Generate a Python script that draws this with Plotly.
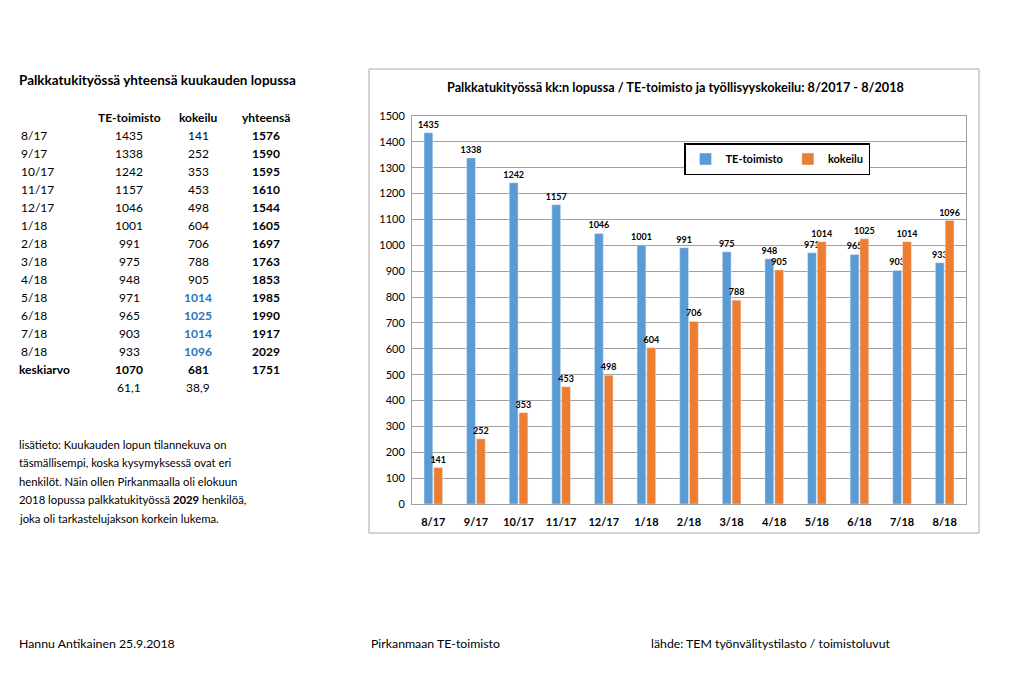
import plotly.graph_objects as go

# ---- data ----
months = ["8/17", "9/17", "10/17", "11/17", "12/17", "1/18", "2/18", "3/18", "4/18", "5/18", "6/18", "7/18", "8/18"]
te_toimisto = [1435, 1338, 1242, 1157, 1046, 1001, 991, 975, 948, 971, 965, 903, 933]
kokeilu = [141, 252, 353, 453, 498, 604, 706, 788, 905, 1014, 1025, 1014, 1096]
yhteensa = [1576, 1590, 1595, 1610, 1544, 1605, 1697, 1763, 1853, 1985, 1990, 1917, 2029]
keskiarvo = [1070, 681, 1751]
osuus = ["61,1", "38,9"]
y_ticks = list(range(0, 1501, 100))

FONT = "Lato"
BLUE = "#5b9bd5"
ORANGE = "#ed7d31"

# plot-area geometry in pixels
W, H = 1024, 676
PL, PR, PT, PB = 412, 966, 116, 504


def px(x):
    return (x - PL) / (PR - PL)


def py(y):
    return (PB - y) / (PB - PT)


fig = go.Figure()
fig.add_trace(go.Bar(
    x=months, y=te_toimisto, name="<b>TE-toimisto</b>", marker_color=BLUE,
    texttemplate="<b>%{y}</b>", textposition="outside",
    textfont=dict(family=FONT, size=9, color="#000"), cliponaxis=False,
    constraintext="none",
))
fig.add_trace(go.Bar(
    x=months, y=kokeilu, name="<b>kokeilu</b>", marker_color=ORANGE,
    texttemplate="<b>%{y}</b>", textposition="outside",
    textfont=dict(family=FONT, size=9, color="#000"), cliponaxis=False,
    constraintext="none",
))

ann = []
shapes = []

# chart box
shapes.append(dict(type="rect", xref="paper", yref="paper",
                   x0=px(369), x1=px(979), y0=py(533), y1=py(69),
                   line=dict(color="#a6a6a6", width=1), layer="below"))

# chart title
ann.append(dict(text="<b>Palkkatukityössä kk:n lopussa / TE-toimisto ja työllisyyskokeilu: 8/2017 - 8/2018</b>",
                x=px(675), y=py(87), xref="paper", yref="paper", showarrow=False,
                xanchor="center", yanchor="middle", font=dict(family=FONT, size=12.7, color="#000")))

# left table
ann.append(dict(text="<b>Palkkatukityössä yhteensä kuukauden lopussa</b>",
                x=px(17), y=py(80), xref="paper", yref="paper", showarrow=False,
                xanchor="left", yanchor="middle", font=dict(family=FONT, size=13.5, color="#000")))

col_x = [129, 198, 266]
headers = ["TE-toimisto", "kokeilu", "yhteensä"]
for cx, h in zip(col_x, headers):
    ann.append(dict(text="<b>" + h + "</b>", x=px(cx), y=py(117), xref="paper", yref="paper",
                    showarrow=False, xanchor="center", yanchor="middle",
                    font=dict(family=FONT, size=12, color="#000")))

row0, step = 135, 18.05
for i, m in enumerate(months):
    yy = row0 + i * step
    ann.append(dict(text=m, x=px(19), y=py(yy), xref="paper", yref="paper", showarrow=False,
                    xanchor="left", yanchor="middle", font=dict(family=FONT, size=12, color="#000")))
    ann.append(dict(text=str(te_toimisto[i]), x=px(col_x[0]), y=py(yy), xref="paper", yref="paper",
                    showarrow=False, xanchor="center", yanchor="middle",
                    font=dict(family=FONT, size=12, color="#000")))
    hi = kokeilu[i] > te_toimisto[i]
    ann.append(dict(text=("<b>%d</b>" % kokeilu[i]) if hi else str(kokeilu[i]),
                    x=px(col_x[1]), y=py(yy), xref="paper", yref="paper",
                    showarrow=False, xanchor="center", yanchor="middle",
                    font=dict(family=FONT, size=12, color="#2e75b6" if hi else "#000")))
    ann.append(dict(text="<b>%d</b>" % yhteensa[i], x=px(col_x[2]), y=py(yy), xref="paper", yref="paper",
                    showarrow=False, xanchor="center", yanchor="middle",
                    font=dict(family=FONT, size=12, color="#000")))

yk = row0 + len(months) * step
ann.append(dict(text="<b>keskiarvo</b>", x=px(17), y=py(yk), xref="paper", yref="paper", showarrow=False,
                xanchor="left", yanchor="middle", font=dict(family=FONT, size=12, color="#000")))
for cx, v in zip(col_x, keskiarvo):
    ann.append(dict(text="<b>%d</b>" % v, x=px(cx), y=py(yk), xref="paper", yref="paper", showarrow=False,
                    xanchor="center", yanchor="middle", font=dict(family=FONT, size=12, color="#000")))
ys = yk + step
for cx, v in zip(col_x[:2], osuus):
    ann.append(dict(text=v, x=px(cx), y=py(ys), xref="paper", yref="paper", showarrow=False,
                    xanchor="center", yanchor="middle", font=dict(family=FONT, size=12, color="#000")))

# note paragraph
note_lines = [
    "lisätieto: Kuukauden lopun tilannekuva on",
    "täsmällisempi, koska kysymyksessä ovat eri",
    "henkilöt. Näin ollen Pirkanmaalla oli elokuun",
    "2018 lopussa palkkatukityössä <b>2029</b> henkilöä,",
    "joka oli tarkastelujakson korkein lukema.",
]
for i, t in enumerate(note_lines):
    ann.append(dict(text=t, x=px(17), y=py(444 + i * 18.6), xref="paper", yref="paper", showarrow=False,
                    xanchor="left", yanchor="middle", font=dict(family=FONT, size=11.3, color="#000")))

# footer
for fx, t in [(17, "Hannu Antikainen 25.9.2018"), (369, "Pirkanmaan TE-toimisto"),
              (649, "lähde: TEM työnvälitystilasto / toimistoluvut")]:
    ann.append(dict(text=t, x=px(fx), y=py(643), xref="paper", yref="paper", showarrow=False,
                    xanchor="left", yanchor="middle", font=dict(family=FONT, size=12.3, color="#000")))

fig.update_layout(
    width=W, height=H,
    margin=dict(l=PL, r=W - PR, t=PT, b=H - PB, pad=0),
    paper_bgcolor="white", plot_bgcolor="white",
    barmode="group", bargap=0.54, bargroupgap=0.1,
    font=dict(family=FONT, color="#000"),
    xaxis=dict(showline=True, linecolor="#a0a0a0", linewidth=1, mirror=True,
               tickfont=dict(family=FONT, size=11, color="#000"), ticks="",
               tickprefix="<b>", ticksuffix="</b>", ticklabelstandoff=8, fixedrange=True),
    yaxis=dict(range=[0, 1500], tickvals=y_ticks, showgrid=True, gridcolor="#a0a0a0", gridwidth=1,
               showline=True, linecolor="#a0a0a0", linewidth=1, mirror=True, zeroline=False,
               tickfont=dict(family=FONT, size=11, color="#000"), ticks="", ticklen=0,
               ticklabelstandoff=4, fixedrange=True),
    legend=dict(orientation="h", x=px(684), y=py(143), xanchor="left", yanchor="top",
                bordercolor="#000", borderwidth=1.5, bgcolor="white",
                font=dict(family=FONT, size=11, color="#000"), traceorder="normal",
                itemwidth=30, tracegroupgap=0),
    annotations=ann, shapes=shapes, showlegend=True,
)

fig.write_html("out.html", post_script="document.body.style.margin='0';", config={"displayModeBar": False})
